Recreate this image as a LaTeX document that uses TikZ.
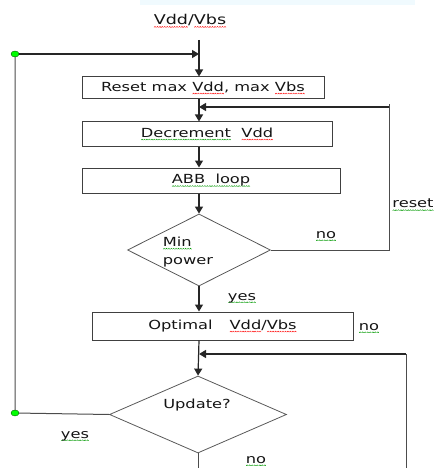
\documentclass[tikz,border=0pt]{standalone}
\usepackage{fontspec}
\setmainfont{DejaVu Sans}[FakeStretch=1.3]
\usetikzlibrary{arrows.meta}
\usetikzlibrary{shapes.geometric}
\newsavebox{\redzig}
\newsavebox{\greenzig}
\newsavebox{\wordbox}
\newcommand{\makezig}[2]{\sbox{#1}{\pgfpicture\pgfsetlinewidth{0.4pt}\pgfsetstrokecolor{#2}%
    \pgfpathmoveto{\pgfpoint{0pt}{0pt}}\pgfpathlineto{\pgfpoint{1pt}{1pt}}\pgfpathlineto{\pgfpoint{2pt}{0pt}}%
    \pgfusepath{stroke}\endpgfpicture}}
\newcommand{\redwave}[1]{\sbox{\wordbox}{#1}\rlap{\lower3pt\hbox to\wd\wordbox{\xleaders\copy\redzig\hfil}}\usebox{\wordbox}}
\newcommand{\greenwave}[1]{\sbox{\wordbox}{#1}\rlap{\lower3pt\hbox to\wd\wordbox{\xleaders\copy\greenzig\hfil}}\usebox{\wordbox}}
\begin{document}
\makezig{\redzig}{red}%
\makezig{\greenzig}{green!60!black}%
\begin{tikzpicture}[x=1pt,y=-1pt,
        >={Stealth[length=7pt,width=8pt,inset=0pt]},
        txt/.style={font=\fontsize{12.5}{18}\selectfont,text=black!92,inner sep=0pt},
        stepbox/.style={txt,draw=black!75,line width=1pt},
        decide/.style={diamond,draw=black!65,line width=0.8pt,inner sep=0pt},
        dot/.style={ellipse,draw=green!40!black,fill=green,line width=0.4pt,
            minimum width=8pt,minimum height=6pt,inner sep=0pt},
        flow/.style={line width=1.2pt,black!85},
        loopline/.style={line width=1pt,black!70},
        ]
        \useasboundingbox (0,0) rectangle (435,468);
        \fill[cyan!6] (140,0) rectangle (415,5);
        % steps
        \node[txt,font=\fontsize{13.5}{16}\selectfont] (title) at (190,21) {\redwave{Vdd}/\redwave{Vbs}};
        \coordinate (in) at (199,40);
        \node[stepbox,minimum width=242pt,minimum height=22pt] (reset) at (203,88)
            {Reset max \redwave{Vdd}, max \redwave{Vbs}\hspace{10pt}};
        \node[stepbox,minimum width=250pt,minimum height=24pt] (decr) at (207,134)
            {\greenwave{Decrement}\ \ \redwave{Vdd}\hspace{13pt}};
        \node[stepbox,minimum width=258pt,minimum height=25pt] (abb) at (211,180.5)
            {\greenwave{ABB\ \ loop}\hspace{15pt}};
        \node[decide,minimum width=143pt,minimum height=72pt] (minpow) at (199,250) {};
        \node[txt,align=left] (minpowtxt) at (188,252) {\greenwave{Min}\\power};
        \node[stepbox,minimum width=261pt,minimum height=28pt] (optim) at (222.5,326)
            {Optimal\hspace{17pt}\redwave{Vdd}/\redwave{Vbs}\hspace{30pt}};
        \node[decide,minimum width=177pt,minimum height=77pt] (upd) at (198,414.5) {};
        \node[txt] (updtxt) at (197,405) {Update?};
        % junctions
        \node[dot] (j1) at (15,54) {};
        \node[dot] (j2) at (15,413) {};
        % labels
        \node[txt] (noA) at (326,236) {\greenwave{no}};
        \node[txt] (rst) at (413,205) {\greenwave{reset}};
        \node[txt] (yesA) at (242,298) {\greenwave{yes}};
        \node[txt] (noB) at (369,328) {\greenwave{no}};
        \node[txt] (yesB) at (75,436) {\greenwave{yes}};
        \node[txt] (noC) at (256,461) {\greenwave{no}};
        % connectors
        \coordinate (rstR) at (389,107);
        \coordinate (rsttop) at (389,104);
        \coordinate (updR) at (406,354);
        \coordinate (offB) at (198,485);
        \draw[flow,->] (in) -- (in |- reset.north);
        \draw[flow,->] (in |- reset.south) -- (in |- decr.north);
        \draw[flow,->] (in |- decr.south) -- (in |- abb.north);
        \draw[flow,->] (in |- abb.south) -- (minpow.north);
        \draw[flow,->] (minpow.south) -- (in |- optim.north);
        \draw[flow,->] (in |- optim.south) -- (upd.north);
        \draw[loopline] (minpow.east) -| (rsttop);
        \draw[flow,->] (rstR) -- (in |- rstR);
        \draw[loopline] (upd.west) -- (j2) -- (j1);
        \draw[flow,->] (j1) -- (in |- j1);
        \draw[loopline] (upd.south) -- (offB) -| (updR);
        \draw[flow,->] (updR) -- (in |- updR);
\end{tikzpicture}
\end{document}
